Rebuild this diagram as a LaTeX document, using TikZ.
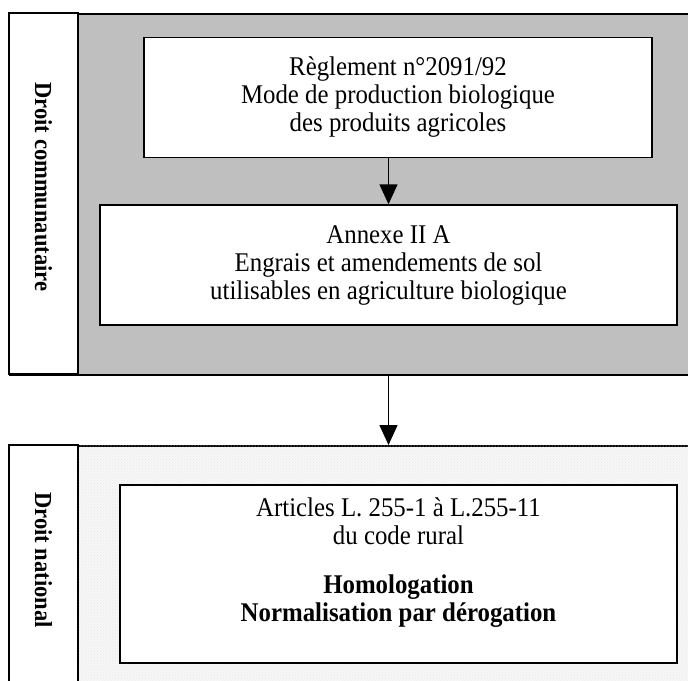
\documentclass[tikz,border=0pt]{standalone}
\usepackage{fontspec}
\setmainfont[FakeStretch=0.92]{Liberation Serif}
\usetikzlibrary{arrows.meta,patterns}

\tikzset{
  panel/.style={draw=black, line width=1.5pt, anchor=north west, minimum width=720pt, inner sep=0pt},
  loibox/.style={draw=black, line width=1.5pt, fill=white, align=center, inner sep=0pt,
    font=\fontsize{27}{28}\selectfont},
  droit/.style={rotate=-90, font=\fontsize{24.5}{26}\selectfont\bfseries},
  fleche/.style={line width=1.5pt, -{Triangle[length=20pt,width=18pt]}}
}

\begin{document}
\begin{tikzpicture}[x=1pt,y=-1pt]
  %%%%% START %%%%%
  \useasboundingbox (0,0) rectangle (688,680);
  \clip (0,0) rectangle (688,680);

  % droit communautaire
  \node[panel, fill=black!25, minimum height=361pt] (communautaire) at (9,13) {};
  \fill[white] (9,13) rectangle (78,374);
  \draw[line width=1.5pt] (9,13) rectangle (78,374);
  \node[droit] (labelcom) at (43.5,187) {Droit communautaire};

  \node[loibox, minimum width=508pt, minimum height=120pt] (reglement) at (398,97.5)
    {Règlement n°2091/92\\Mode de production biologique\\des produits agricoles};
  \node[loibox, minimum width=577pt, minimum height=120pt] (annexe) at (388.5,265)
    {Annexe II A\\Engrais et amendements de sol\\utilisables en agriculture biologique};

  \draw[fleche] (reglement.south -| annexe.north) -- (annexe.north);

  % droit national
  \node[panel, fill=black!3, minimum height=300pt] (national) at (9,445) {};
  \fill[pattern=crosshatch dots, pattern color=black!9] (78,445) rectangle (720,745);
  \fill[white] (9,445) rectangle (78,745);
  \draw[line width=1.5pt] (9,445) rectangle (78,745);
  \node[droit] (labelnat) at (43.5,560) {Droit national};

  \node[loibox, minimum width=557pt, minimum height=178pt] (articles) at (398.5,574)
    {Articles L. 255-1 à L.255-11\\du code rural\\[21pt]\textbf{Homologation}\\
     \textbf{Normalisation par dérogation}\rule[-28pt]{0pt}{0pt}};

  \draw[fleche] (communautaire.south -| annexe.south) -- (national.north -| annexe.south);
  %%%%% END %%%%%
\end{tikzpicture}
\end{document}
